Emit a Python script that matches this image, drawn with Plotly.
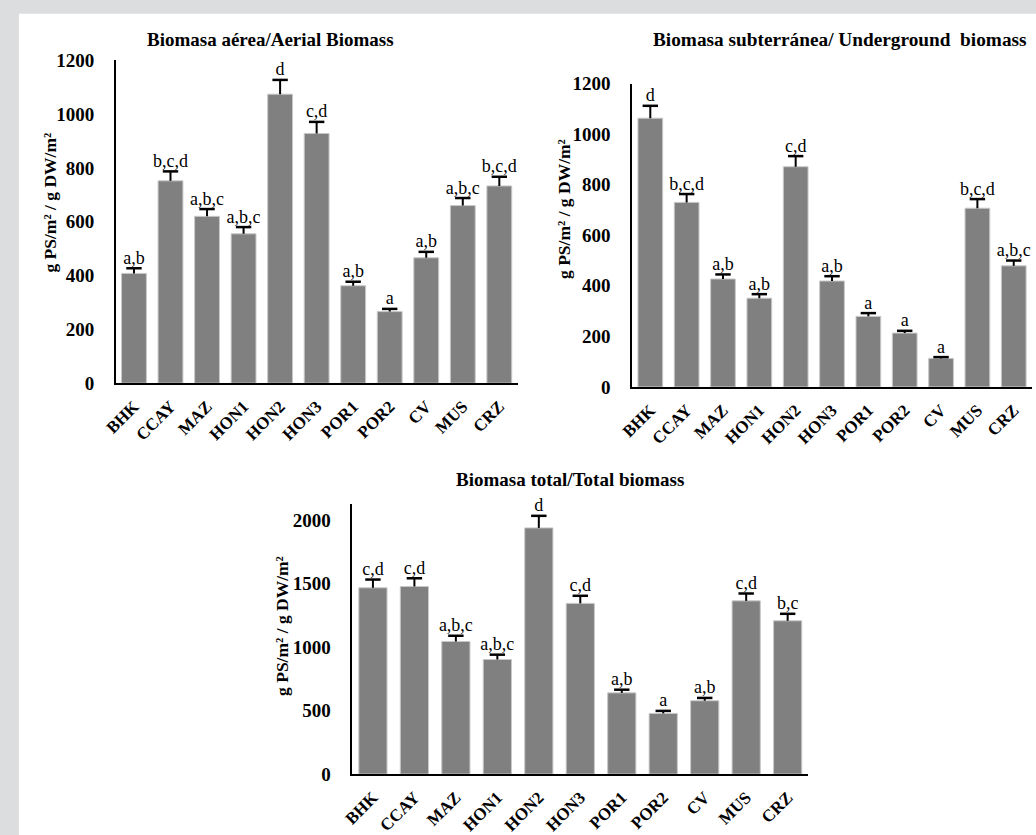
import plotly.graph_objects as go

categories = ["BHK", "CCAY", "MAZ", "HON1", "HON2", "HON3", "POR1", "POR2", "CV", "MUS", "CRZ"]

aerial = [408, 752, 620, 555, 1074, 928, 362, 266, 466, 660, 733]
aerial_err = [19, 35, 27, 25, 53, 43, 15, 10, 22, 28, 34]
aerial_letters = ["a,b", "b,c,d", "a,b,c", "a,b,c", "d", "c,d", "a,b", "a", "a,b", "a,b,c", "b,c,d"]

under = [1063, 730, 427, 351, 871, 419, 279, 213, 113, 707, 479]
under_err = [49, 33, 18, 16, 42, 19, 13, 9, 5, 36, 21]
under_letters = ["d", "b,c,d", "a,b", "a,b", "c,d", "a,b", "a", "a", "a", "b,c,d", "a,b,c"]

total = [1468, 1478, 1045, 903, 1940, 1345, 640, 478, 578, 1365, 1208]
total_err = [65, 65, 45, 38, 95, 60, 25, 20, 22, 58, 55]
total_letters = ["c,d", "c,d", "a,b,c", "a,b,c", "d", "c,d", "a,b", "a", "a,b", "c,d", "b,c"]

titles = ["Biomasa aérea/Aerial Biomass",
          "Biomasa subterránea/ Underground  biomass",
          "Biomasa total/Total biomass"]
ytitle = "g PS/m² / g DW/m²"

W, H = 1036, 835
# effective paper frame observed in the rendered page
FW, FT, FH = 1036, 9.3, 815
SERIF = "Liberation Serif"


def px(x):
    return x / FW


def py(y):
    return 1 - (y - FT) / FH


fig = go.Figure()

panels = [
    (aerial, aerial_err, aerial_letters, "x", "y"),
    (under, under_err, under_letters, "x2", "y2"),
    (total, total_err, total_letters, "x3", "y3"),
]

for vals, errs, letters, xa, ya in panels:
    tops = [v + e for v, e in zip(vals, errs)]
    fig.add_trace(go.Bar(
        x=categories, y=vals, xaxis=xa, yaxis=ya,
        marker=dict(color="#808080", line=dict(color="#c8c8c8", width=1)),
        error_y=dict(type="data", array=errs, arrayminus=[0] * len(errs), symmetric=False,
                     color="black", thickness=2, width=0),
        showlegend=False, hoverinfo="x+y",
    ))
    fig.add_trace(go.Scatter(
        x=categories, y=tops, xaxis=xa, yaxis=ya, mode="markers",
        marker=dict(symbol="line-ew", size=11, line=dict(color="black", width=2.5)),
        showlegend=False, hoverinfo="skip", cliponaxis=False,
    ))
    fig.add_trace(go.Scatter(
        x=categories, y=tops, xaxis=xa, yaxis=ya,
        mode="text", text=letters, textposition="top center",
        textfont=dict(family=SERIF, size=18, color="black"),
        showlegend=False, hoverinfo="skip", cliponaxis=False,
    ))

n = len(categories)
xcommon = dict(showline=True, linecolor="black", linewidth=1.5, ticks="", showgrid=False,
               tickangle=-45, tickfont=dict(family=SERIF, size=17, color="black", weight="bold"),
               zeroline=False, ticklabelstandoff=5, range=[-0.5, n - 0.5], autorange=False)
ycommon = dict(showline=True, linecolor="black", linewidth=1.5, ticks="", showgrid=False,
               tickfont=dict(family=SERIF, size=19, color="black", weight="bold"),
               zeroline=False, ticklabelstandoff=16)

GRAY = "#dcdddf"
fig.update_layout(
    width=W, height=H,
    margin=dict(l=0, r=0, t=0, b=0),
    paper_bgcolor="white",
    plot_bgcolor="rgba(0,0,0,0)",
    bargap=0.32,
    xaxis=dict(domain=[px(104), px(511)], anchor="y", **xcommon),
    yaxis=dict(domain=[py(385.7), py(60)], anchor="x", range=[0, 1200], dtick=200, **ycommon),
    xaxis2=dict(domain=[px(627), 0.996], anchor="y2", **xcommon),
    yaxis2=dict(domain=[py(389.5), py(83.5)], anchor="x2", range=[0, 1200], dtick=200, **ycommon),
    xaxis3=dict(domain=[px(343.5), px(805.5)], anchor="y3", **xcommon),
    yaxis3=dict(domain=[py(780), py(508)], anchor="x3", range=[0, 2125],
                tickvals=[0, 500, 1000, 1500, 2000], **ycommon),
    shapes=[dict(type="rect", xref="paper", yref="paper", x0=-0.05, x1=1.05, y0=py(13), y1=1.05,
                 fillcolor=GRAY, line=dict(width=0), layer="below"),
            dict(type="rect", xref="paper", yref="paper", x0=-0.05, x1=px(6), y0=-0.05, y1=1.05,
                 fillcolor=GRAY, line=dict(width=0), layer="below")],
)

ann = []
for t, (cx, cy, fs) in zip(titles, [(261, 39, 19), (838, 39, 19.3), (564, 483, 19)]):
    ann.append(dict(text="<b>%s</b>" % t, x=px(cx), y=py(cy), xref="paper", yref="paper",
                    showarrow=False, xanchor="center", yanchor="middle",
                    font=dict(family=SERIF, size=fs, color="black")))
for (cx, cy) in [(37, 204), (558, 210), (273, 631)]:
    ann.append(dict(text="<b>%s</b>" % ytitle, x=px(cx), y=py(cy), xref="paper", yref="paper",
                    showarrow=False, xanchor="center", yanchor="middle", textangle=-90,
                    font=dict(family=SERIF, size=17.5, color="black")))
fig.update_layout(annotations=ann)

fig.write_html("out.html", config={"displayModeBar": False},
               post_script="document.body.style.margin='0';document.body.style.overflow='hidden';")
